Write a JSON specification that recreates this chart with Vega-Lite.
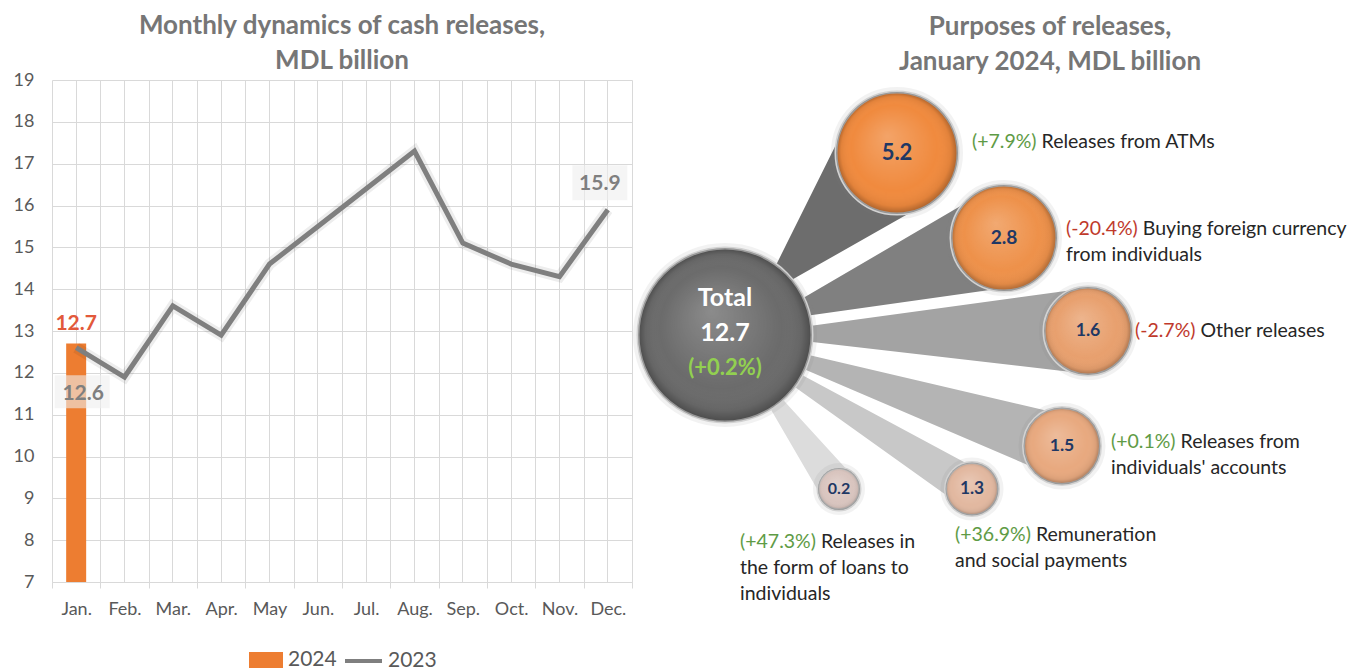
{
  "$schema": "https://vega.github.io/schema/vega-lite/v6.json",
  "background": "white",
  "padding": {"left": 13, "top": 13, "right": 0, "bottom": 0},
  "spacing": 0,
  "bounds": "flush",
  "config": {
    "font": "Lato",
    "view": {"stroke": null},
    "title": {"font": "Lato", "fontSize": 26, "fontWeight": "bold", "color": "#767676", "lineHeight": 35, "anchor": "middle", "frame": "group", "offset": -3},
    "axis": {"labelFont": "Lato", "labelFontSize": 18, "labelColor": "#595959", "gridColor": "#d9d9d9", "domainColor": "#d9d9d9", "tickColor": "#d9d9d9"},
    "legend": {"labelFont": "Lato", "labelFontSize": 21, "labelColor": "#595959", "title": null, "padding": 0, "labelOffset": 4}
  },
  "datasets": {
    "monthly": [
      {"month": "Jan.", "year": "2023", "value": 12.6},
      {"month": "Feb.", "year": "2023", "value": 11.9},
      {"month": "Mar.", "year": "2023", "value": 13.6},
      {"month": "Apr.", "year": "2023", "value": 12.9},
      {"month": "May", "year": "2023", "value": 14.6},
      {"month": "Jun.", "year": "2023", "value": 15.5},
      {"month": "Jul.", "year": "2023", "value": 16.4},
      {"month": "Aug.", "year": "2023", "value": 17.3},
      {"month": "Sep.", "year": "2023", "value": 15.1},
      {"month": "Oct.", "year": "2023", "value": 14.6},
      {"month": "Nov.", "year": "2023", "value": 14.3},
      {"month": "Dec.", "year": "2023", "value": 15.9},
      {"month": "Jan.", "year": "2024", "value": 12.7}
    ],
    "bubbles": [
      {"id": "Total", "value": 12.7, "change": 0.2, "pct": "(+0.2%)", "x": 18.6, "y": 57.0},
      {"id": "ATMs", "value": 5.2, "change": 7.9, "pct": "(+7.9%)", "label": ["(+7.9%) Releases from ATMs"], "x": 53.0, "y": 93.4, "lx": 68.0, "ly": 97.4},
      {"id": "FX", "value": 2.8, "change": -20.4, "pct": "(-20.4%)", "label": ["(-20.4%) Buying foreign currency", "from individuals"], "x": 74.4, "y": 76.4, "lx": 86.8, "ly": 80.0},
      {"id": "Other", "value": 1.6, "change": -2.7, "pct": "(-2.7%)", "label": ["(-2.7%) Other releases"], "x": 91.2, "y": 57.8, "lx": 100.6, "ly": 59.6},
      {"id": "Accounts", "value": 1.5, "change": 0.1, "pct": "(+0.1%)", "label": ["(+0.1%) Releases from", "individuals' accounts"], "x": 86.0, "y": 34.8, "lx": 95.8, "ly": 37.4},
      {"id": "Remuneration", "value": 1.3, "change": 36.9, "pct": "(+36.9%)", "label": ["(+36.9%) Remuneration", "and social payments"], "x": 68.0, "y": 26.2, "lx": 64.6, "ly": 18.8},
      {"id": "Loans", "value": 0.2, "change": 47.3, "pct": "(+47.3%)", "label": ["(+47.3%) Releases in", "the form of loans to", "individuals"], "x": 41.4, "y": 26.2, "lx": 21.6, "ly": 17.4}
    ],
    "links": [
      {"id": "ATMs", "x": 28.2, "y": 67.2, "flow": 0},
      {"id": "ATMs", "x": 53.0, "y": 93.4, "flow": 5.2},
      {"id": "FX", "x": 31.8, "y": 61.6, "flow": 0},
      {"id": "FX", "x": 74.4, "y": 76.4, "flow": 2.8},
      {"id": "Other", "x": 32.6, "y": 57.2, "flow": 0},
      {"id": "Other", "x": 91.2, "y": 57.8, "flow": 1.6},
      {"id": "Accounts", "x": 31.8, "y": 52.6, "flow": 0},
      {"id": "Accounts", "x": 86.0, "y": 34.8, "flow": 1.5},
      {"id": "Remuneration", "x": 30.4, "y": 49.6, "flow": 0},
      {"id": "Remuneration", "x": 68.0, "y": 26.2, "flow": 1.3},
      {"id": "Loans", "x": 27.0, "y": 45.8, "flow": 0},
      {"id": "Loans", "x": 41.4, "y": 26.2, "flow": 0.2}
    ]
  },
  "hconcat": [
    {
      "width": 580,
      "height": 502,
      "title": {"text": ["Monthly dynamics of cash releases,", "MDL billion"]},
      "data": {"name": "monthly"},
      "encoding": {
        "y": {"field": "value", "type": "quantitative", "scale": {"domain": [7, 19], "nice": false, "zero": false}, "axis": {"values": [7, 8, 9, 10, 11, 12, 13, 14, 15, 16, 17, 18, 19], "ticks": false, "domain": false, "labelPadding": 18, "title": null}}
      },
      "layer": [
        {
          "transform": [{"filter": "datum.year == '2024'"}],
          "mark": {"type": "bar", "width": 20},
          "encoding": {
            "x": {"field": "month", "type": "nominal", "scale": {"domain": ["Jan.", "Feb.", "Mar.", "Apr.", "May", "Jun.", "Jul.", "Aug.", "Sep.", "Oct.", "Nov.", "Dec."], "paddingInner": 0, "paddingOuter": 0}, "axis": {"orient": "bottom", "title": null, "labelAngle": 0, "tickBand": "extent", "grid": true, "ticks": true, "tickSize": 6, "domain": true, "labelPadding": 12}},
            "y2": {"datum": 7},
            "fill": {"field": "year", "type": "nominal", "scale": {"domain": ["2024"], "range": ["#ED7D31"]}, "legend": {"orient": "none", "legendX": 196, "legendY": 562, "symbolType": "M-1,-0.47H1V0.47H-1Z", "symbolSize": 1156}}
          }
        },
        {
          "transform": [{"filter": "datum.year == '2023'"}],
          "mark": {"type": "line", "color": "#000000", "opacity": 0.07, "strokeWidth": 11},
          "encoding": {
            "x": {"field": "month", "type": "nominal", "scale": {"domain": ["Jan.", "Feb.", "Mar.", "Apr.", "May", "Jun.", "Jul.", "Aug.", "Sep.", "Oct.", "Nov.", "Dec."], "paddingInner": 0, "paddingOuter": 0}, "axis": null}
          }
        },
        {
          "transform": [{"filter": "datum.year == '2023'"}],
          "mark": {"type": "line", "strokeWidth": 5},
          "encoding": {
            "x": {"field": "month", "type": "nominal", "scale": {"domain": ["Jan.", "Feb.", "Mar.", "Apr.", "May", "Jun.", "Jul.", "Aug.", "Sep.", "Oct.", "Nov.", "Dec."], "paddingInner": 0, "paddingOuter": 0}, "axis": {"orient": "bottom", "title": null, "grid": true, "labels": false, "ticks": false, "domain": false, "bandPosition": 0.5}},
            "stroke": {"field": "year", "type": "nominal", "scale": {"domain": ["2023"], "range": ["#7f7f7f"]}, "legend": {"orient": "none", "legendX": 291, "legendY": 560.5, "symbolType": "stroke", "symbolSize": 1369, "symbolStrokeWidth": 4}}
          }
        },
        {
          "transform": [{"filter": "datum.year == '2024'"}],
          "mark": {"type": "text", "dy": -20, "fontSize": 21, "fontWeight": "bold", "color": "#e2593b", "baseline": "middle"},
          "encoding": {
            "x": {"field": "month", "type": "nominal", "scale": {"domain": ["Jan.", "Feb.", "Mar.", "Apr.", "May", "Jun.", "Jul.", "Aug.", "Sep.", "Oct.", "Nov.", "Dec."], "paddingInner": 0, "paddingOuter": 0}, "axis": null},
            "text": {"field": "value", "type": "quantitative", "format": ".1f"}
          }
        },
        {
          "transform": [{"filter": "datum.year == '2023' && datum.month == 'Jan.'"}],
          "mark": {"type": "point", "shape": "M-0.78,1.0H1.22V2.2H-0.78Z", "size": 3025, "filled": true, "fill": "#eeeeee", "opacity": 0.6, "strokeWidth": 0},
          "encoding": {
            "x": {"field": "month", "type": "nominal", "scale": {"domain": ["Jan.", "Feb.", "Mar.", "Apr.", "May", "Jun.", "Jul.", "Aug.", "Sep.", "Oct.", "Nov.", "Dec."], "paddingInner": 0, "paddingOuter": 0}, "axis": null}
          }
        },
        {
          "transform": [{"filter": "datum.year == '2023' && datum.month == 'Jan.'"}],
          "mark": {"type": "text", "dx": 7, "dy": 46, "fontSize": 21, "fontWeight": "bold", "color": "#7f7f7f", "baseline": "middle"},
          "encoding": {
            "x": {"field": "month", "type": "nominal", "scale": {"domain": ["Jan.", "Feb.", "Mar.", "Apr.", "May", "Jun.", "Jul.", "Aug.", "Sep.", "Oct.", "Nov.", "Dec."], "paddingInner": 0, "paddingOuter": 0}, "axis": null},
            "text": {"field": "value", "type": "quantitative", "format": ".1f"}
          }
        },
        {
          "transform": [{"filter": "datum.year == '2023' && datum.month == 'Dec.'"}],
          "mark": {"type": "point", "shape": "M-1.29,-1.62H0.71V-0.34H-1.29Z", "size": 3025, "filled": true, "fill": "#eeeeee", "opacity": 0.6, "strokeWidth": 0},
          "encoding": {
            "x": {"field": "month", "type": "nominal", "scale": {"domain": ["Jan.", "Feb.", "Mar.", "Apr.", "May", "Jun.", "Jul.", "Aug.", "Sep.", "Oct.", "Nov.", "Dec."], "paddingInner": 0, "paddingOuter": 0}, "axis": null}
          }
        },
        {
          "transform": [{"filter": "datum.year == '2023' && datum.month == 'Dec.'"}],
          "mark": {"type": "text", "dx": -8, "dy": -26, "fontSize": 21, "fontWeight": "bold", "color": "#7f7f7f", "baseline": "middle"},
          "encoding": {
            "x": {"field": "month", "type": "nominal", "scale": {"domain": ["Jan.", "Feb.", "Mar.", "Apr.", "May", "Jun.", "Jul.", "Aug.", "Sep.", "Oct.", "Nov.", "Dec."], "paddingInner": 0, "paddingOuter": 0}, "axis": null},
            "text": {"field": "value", "type": "quantitative", "format": ".1f"}
          }
        }
      ],
      "resolve": {"axis": {"x": "independent"}}
    },
    {
      "width": 700,
      "height": 540,
      "title": {"text": ["Purposes of releases,", "January 2024, MDL billion"], "dx": 68},
      "layer": [
        {
          "data": {"name": "links"},
          "mark": {"type": "trail"},
          "encoding": {
            "x": {"field": "x", "type": "quantitative", "scale": {"domain": [0, 140], "nice": false}, "axis": null},
            "y": {"field": "y", "type": "quantitative", "scale": {"domain": [0, 108], "nice": false}, "axis": null},
            "detail": {"field": "id"},
            "order": {"field": "flow", "type": "quantitative"},
            "size": {"field": "flow", "type": "quantitative", "scale": {"type": "linear", "zero": false, "nice": false, "domain": [0, 0.2, 1.3, 1.5, 1.6, 2.8, 5.2], "range": [12, 38, 40, 62, 86, 101, 122]}, "legend": null},
            "color": {"field": "id", "type": "nominal", "scale": {"domain": ["ATMs", "FX", "Other", "Accounts", "Remuneration", "Loans"], "range": ["#6d6d6d", "#808080", "#a3a3a3", "#b4b4b4", "#c8c8c8", "#dcdcdc"]}, "legend": null}
          }
        },
        {
          "data": {"name": "bubbles"},
          "mark": {"type": "circle", "opacity": 1, "fill": "#7f7f7f", "fillOpacity": 0.2, "stroke": "#7f7f7f", "strokeOpacity": 0.1, "strokeWidth": 10},
          "encoding": {
            "x": {"field": "x", "type": "quantitative", "scale": {"domain": [0, 140], "nice": false}, "axis": null},
            "y": {"field": "y", "type": "quantitative", "scale": {"domain": [0, 108], "nice": false}, "axis": null},
            "size": {"field": "value", "type": "quantitative", "scale": {"type": "linear", "zero": false, "nice": false, "domain": [0.2, 1.3, 1.5, 1.6, 2.8, 5.2, 12.7], "range": [1764, 2809, 5929, 7744, 11236, 14884, 30276]}, "legend": null}
          }
        },
        {
          "data": {"name": "bubbles"},
          "mark": {"type": "circle", "opacity": 1, "stroke": "#d2d2d2", "strokeWidth": 3},
          "encoding": {
            "x": {"field": "x", "type": "quantitative", "scale": {"domain": [0, 140], "nice": false}, "axis": null},
            "y": {"field": "y", "type": "quantitative", "scale": {"domain": [0, 108], "nice": false}, "axis": null},
            "size": {"field": "value", "type": "quantitative", "scale": {"type": "linear", "zero": false, "nice": false, "domain": [0.2, 1.3, 1.5, 1.6, 2.8, 5.2, 12.7], "range": [1764, 2809, 5929, 7744, 11236, 14884, 30276]}, "legend": null},
            "color": {"field": "id", "type": "nominal", "scale": {"domain": ["Total", "ATMs", "FX", "Other", "Accounts", "Remuneration", "Loans"], "range": ["#6b6b6b", "#f08a3e", "#ee914a", "#e8a06e", "#e8a97f", "#e2b8a0", "#d9c5bf"]}, "legend": null}
          }
        },
        {
          "data": {"name": "bubbles"},
          "mark": {"type": "circle", "opacity": 1, "strokeWidth": 0, "fill": {"gradient": "radial", "x1": 0.42, "y1": 0.36, "r1": 0, "x2": 0.5, "y2": 0.5, "r2": 0.5, "stops": [{"offset": 0, "color": "rgba(255,255,255,0.22)"}, {"offset": 0.7, "color": "rgba(255,255,255,0)"}, {"offset": 0.9, "color": "rgba(0,0,0,0.06)"}, {"offset": 1, "color": "rgba(0,0,0,0.3)"}]}},
          "encoding": {
            "x": {"field": "x", "type": "quantitative", "scale": {"domain": [0, 140], "nice": false}, "axis": null},
            "y": {"field": "y", "type": "quantitative", "scale": {"domain": [0, 108], "nice": false}, "axis": null},
            "size": {"field": "value", "type": "quantitative", "scale": {"type": "linear", "zero": false, "nice": false, "domain": [0.2, 1.3, 1.5, 1.6, 2.8, 5.2, 12.7], "range": [1764, 2809, 5929, 7744, 11236, 14884, 30276]}, "legend": null}
          }
        },
        {
          "data": {"name": "bubbles"},
          "transform": [{"filter": "datum.id != 'Total'"}],
          "mark": {"type": "text", "fontWeight": "bold", "color": "#1f3864", "align": "center", "baseline": "middle"},
          "encoding": {
            "x": {"field": "x", "type": "quantitative", "scale": {"domain": [0, 140], "nice": false}, "axis": null},
            "y": {"field": "y", "type": "quantitative", "scale": {"domain": [0, 108], "nice": false}, "axis": null},
            "text": {"field": "value", "type": "quantitative", "format": ".1f"},
            "size": {"field": "value", "type": "quantitative", "scale": {"domain": [0.2, 5.2], "range": [16, 22]}, "legend": null}
          }
        },
        {
          "data": {"name": "bubbles"},
          "transform": [{"filter": "datum.id == 'Total'"}],
          "mark": {"type": "text", "fontWeight": "bold", "fontSize": 25, "color": "#ffffff", "align": "center", "baseline": "middle", "dy": -37},
          "encoding": {
            "x": {"field": "x", "type": "quantitative", "scale": {"domain": [0, 140], "nice": false}, "axis": null},
            "y": {"field": "y", "type": "quantitative", "scale": {"domain": [0, 108], "nice": false}, "axis": null},
            "text": {"field": "id", "type": "nominal"}
          }
        },
        {
          "data": {"name": "bubbles"},
          "transform": [{"filter": "datum.id == 'Total'"}],
          "mark": {"type": "text", "fontWeight": "bold", "fontSize": 25, "color": "#ffffff", "align": "center", "baseline": "middle", "dy": -2},
          "encoding": {
            "x": {"field": "x", "type": "quantitative", "scale": {"domain": [0, 140], "nice": false}, "axis": null},
            "y": {"field": "y", "type": "quantitative", "scale": {"domain": [0, 108], "nice": false}, "axis": null},
            "text": {"field": "value", "type": "quantitative", "format": ".1f"}
          }
        },
        {
          "data": {"name": "bubbles"},
          "transform": [{"filter": "datum.id == 'Total'"}],
          "mark": {"type": "text", "fontWeight": "bold", "fontSize": 22, "color": "#92d050", "align": "center", "baseline": "middle", "dy": 33},
          "encoding": {
            "x": {"field": "x", "type": "quantitative", "scale": {"domain": [0, 140], "nice": false}, "axis": null},
            "y": {"field": "y", "type": "quantitative", "scale": {"domain": [0, 108], "nice": false}, "axis": null},
            "text": {"field": "pct", "type": "nominal"}
          }
        },
        {
          "data": {"name": "bubbles"},
          "transform": [{"filter": "datum.id != 'Total'"}],
          "mark": {"type": "text", "fontSize": 19.5, "lineHeight": 26, "color": "#262626", "align": "left", "baseline": "top"},
          "encoding": {
            "x": {"field": "lx", "type": "quantitative", "scale": {"domain": [0, 140], "nice": false}, "axis": null},
            "y": {"field": "ly", "type": "quantitative", "scale": {"domain": [0, 108], "nice": false}, "axis": null},
            "text": {"field": "label", "type": "nominal"}
          }
        },
        {
          "data": {"name": "bubbles"},
          "transform": [{"filter": "datum.id != 'Total'"}],
          "mark": {"type": "text", "fontSize": 19.5, "lineHeight": 26, "fill": "#ffffff", "stroke": "#ffffff", "strokeWidth": 1.6, "align": "left", "baseline": "top"},
          "encoding": {
            "x": {"field": "lx", "type": "quantitative", "scale": {"domain": [0, 140], "nice": false}, "axis": null},
            "y": {"field": "ly", "type": "quantitative", "scale": {"domain": [0, 108], "nice": false}, "axis": null},
            "text": {"field": "pct", "type": "nominal"}
          }
        },
        {
          "data": {"name": "bubbles"},
          "transform": [{"filter": "datum.id != 'Total'"}],
          "mark": {"type": "text", "fontSize": 19.5, "lineHeight": 26, "align": "left", "baseline": "top"},
          "encoding": {
            "x": {"field": "lx", "type": "quantitative", "scale": {"domain": [0, 140], "nice": false}, "axis": null},
            "y": {"field": "ly", "type": "quantitative", "scale": {"domain": [0, 108], "nice": false}, "axis": null},
            "text": {"field": "pct", "type": "nominal"},
            "color": {"field": "change", "type": "quantitative", "scale": {"type": "threshold", "domain": [0], "range": ["#c0392b", "#5e9b45"]}, "legend": null}
          }
        }
      ],
      "resolve": {"scale": {"size": "independent", "color": "independent"}}
    }
  ]
}
